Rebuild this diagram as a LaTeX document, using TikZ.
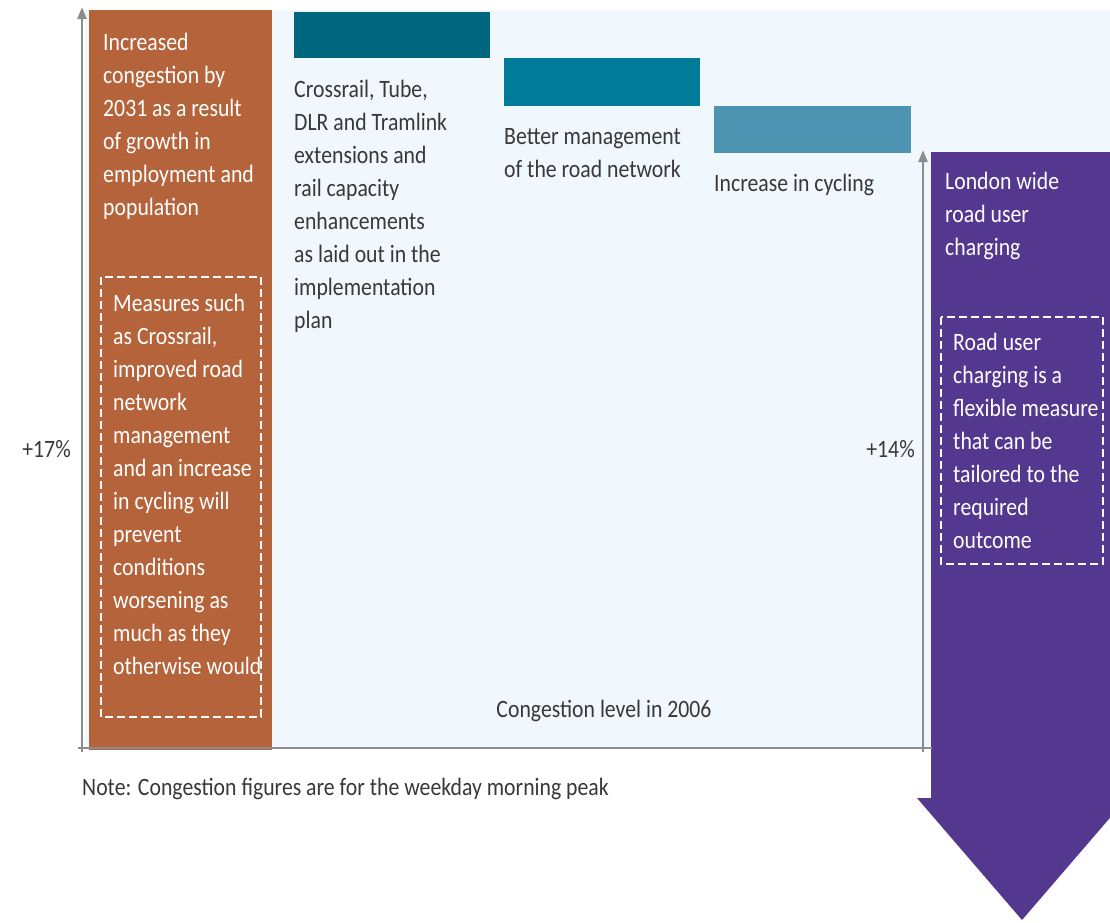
\documentclass[tikz,border=0pt]{standalone}
\usepackage{fontspec}
\setmainfont[FakeStretch=0.87]{Carlito}
\usetikzlibrary{arrows.meta}

\definecolor{skyback}{HTML}{F0F8FE}
\definecolor{axisgray}{HTML}{8C8C8C}
\definecolor{rustbar}{HTML}{B5633A}
\definecolor{tealA}{HTML}{00657F}
\definecolor{tealB}{HTML}{007B98}
\definecolor{tealC}{HTML}{4C94B1}
\definecolor{plumbar}{HTML}{54378E}
\definecolor{inktext}{HTML}{383838}

\tikzset{
  axisline/.style={draw=axisgray, line width=2.5pt},
  whitetxt/.style={text=white, font=\fontsize{25}{33}\selectfont, align=left, inner sep=0pt},
  inktxt/.style={text=inktext, font=\fontsize{25}{33}\selectfont, align=left, inner sep=0pt},
  dashbox/.style={draw=white, line width=1.6pt, dash pattern=on 8pt off 4pt},
}

\begin{document}
\begin{tikzpicture}[x=1pt,y=-1pt]
            \useasboundingbox (0,0) rectangle (1110,922);
            \clip (0,0) rectangle (1110,922);

            % Draw the background
            \fill[skyback] (85,10) rectangle (1110,748);

            % Draw the growth bar and its texts
            \fill[rustbar] (89,10) rectangle (272,750);
            \node[whitetxt, anchor=north west] (growth) at (103,33)
                {Increased\\congestion by\\2031 as a result\\of growth in\\employment and\\population};
            \draw[dashbox] (101,277) rectangle (261,717);
            \node[whitetxt, anchor=north west] (measures) at (113,294)
                {Measures such\\as Crossrail,\\improved road\\network\\management\\and an increase\\in cycling will\\prevent\\conditions\\worsening as\\much as they\\otherwise would};

            % Draw the three steps down and their labels
            \fill[tealA] (294,12) rectangle (490,58);
            \node[inktxt, anchor=north west] (rail) at (294,80)
                {Crossrail, Tube,\\DLR and Tramlink\\extensions and\\rail capacity\\enhancements\\as laid out in the\\implementation\\plan};

            \fill[tealB] (504,58) rectangle (700,106);
            \node[inktxt, anchor=north west] (road) at (504,128)
                {Better management\\of the road network};

            \fill[tealC] (714,106) rectangle (911,153);
            \node[inktxt, anchor=north west] (cycle) at (714,174)
                {Increase in cycling};

            % Draw the charging arrow
            \fill[plumbar] (931,152) -- (1113,152) -- (1113,798) -- (1127,798)
                -- (1022,920) -- (917,798) -- (931,798) -- cycle;
            \node[whitetxt, anchor=north west] (charge) at (945,172)
                {London wide\\road user\\charging};
            \draw[dashbox] (941,317) rectangle (1103,564);
            \node[whitetxt, anchor=north west] (flexible) at (953,333)
                {Road user\\charging is a\\flexible measure\\that can be\\tailored to the\\required\\outcome};

            % Draw the axes
            \draw[axisline] (78,748) -- (932,748);
            \draw[axisline, -{Triangle[width=9pt,length=12pt]}] (82,752) -- (82,7);
            \draw[axisline, -{Triangle[width=9pt,length=12pt]}] (923,752) -- (923,150);

            % Draw the level labels
            \node[inktxt, anchor=base east] (up17) at (71,457) {+17\%};
            \node[inktxt, anchor=base east] (up14) at (915,457) {+14\%};
            \node[inktxt, anchor=base] (level) at (604,717) {Congestion level in 2006};
            \node[inktxt, anchor=base west] (note) at (82,795)
                {Note: Congestion figures are for the weekday morning peak};

\end{tikzpicture}
\end{document}
